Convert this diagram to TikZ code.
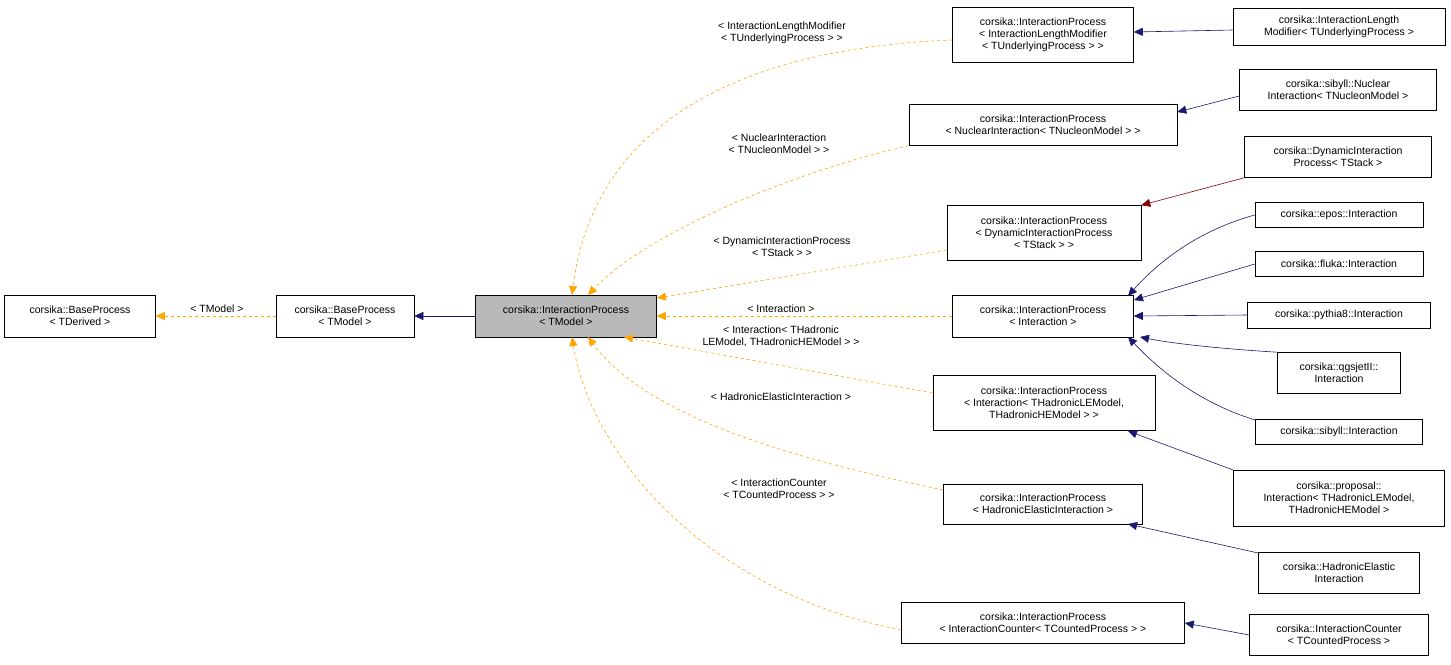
\documentclass[tikz,border=0pt]{standalone}
\usepackage{fontspec}
\setmainfont{Liberation Sans}
\usetikzlibrary{arrows.meta}
\definecolor{og}{HTML}{FFA500}
\definecolor{nvy}{HTML}{191970}
\begin{document}
\begin{tikzpicture}[x=1pt,y=-1pt,
  box/.style={draw,semithick,align=center,inner sep=2pt,font=\fontsize{10.5}{12}\selectfont},
  inh/.style={draw=og,dashed,semithick,-{Triangle[width=8pt,length=9pt]}},
  nv/.style={draw=nvy,semithick,-{Triangle[width=8pt,length=9pt]}},
  rd/.style={draw=red!50!black,semithick,-{Triangle[width=8pt,length=9pt]}},
  lab/.style={align=center,font=\fontsize{10.5}{12}\selectfont}]
\useasboundingbox (0,0) rectangle (1451,664);
\def\bx#1#2#3#4#5#6{\node[box,minimum width=#4,minimum height=#5] (#1) at (#2,#3) {#6};}
\bx{bd}{80}{316}{151}{42}{corsika::BaseProcess\\< TDerived >}
\bx{bm}{345}{316}{138}{42}{corsika::BaseProcess\\< TModel >}
\node[box,fill=gray!55,minimum width=181,minimum height=42] (ip) at (566,316) {corsika::InteractionProcess\\< TModel >};
\bx{ilm}{1043}{35}{181}{55}{corsika::InteractionProcess\\< InteractionLengthModifier\\< TUnderlyingProcess > >}
\bx{ilmr}{1339}{27}{212}{37}{corsika::InteractionLength\\Modifier< TUnderlyingProcess >}
\bx{nuc}{1043}{125}{268}{41}{corsika::InteractionProcess\\< NuclearInteraction< TNucleonModel > >}
\bx{nucr}{1338}{90}{197}{41}{corsika::sibyll::Nuclear\\Interaction< TNucleonModel >}
\bx{dynr}{1338}{157}{187}{41}{corsika::DynamicInteraction\\Process< TStack >}
\bx{dyn}{1044}{233}{194}{55}{corsika::InteractionProcess\\< DynamicInteractionProcess\\< TStack > >}
\bx{epos}{1339}{215}{168}{25}{corsika::epos::Interaction}
\bx{fluka}{1339}{264}{168}{25}{corsika::fluka::Interaction}
\bx{py}{1339}{315}{183}{26}{corsika::pythia8::Interaction}
\bx{qgs}{1339}{373}{123}{41}{corsika::qgsjetII::\\Interaction}
\bx{sib}{1339}{432}{167}{25}{corsika::sibyll::Interaction}
\bx{int}{1043}{316}{181}{42}{corsika::InteractionProcess\\< Interaction >}
\bx{hle}{1044}{403}{222}{55}{corsika::InteractionProcess\\< Interaction< THadronicLEModel,\\THadronicHEModel > >}
\bx{prop}{1339}{498}{211}{56}{corsika::proposal::\\Interaction< THadronicLEModel,\\THadronicHEModel >}
\bx{hel}{1043}{504}{199}{40}{corsika::InteractionProcess\\< HadronicElasticInteraction >}
\bx{helr}{1339}{573}{161}{41}{corsika::HadronicElastic\\Interaction}
\bx{cnt}{1043}{623}{283}{41}{corsika::InteractionProcess\\< InteractionCounter< TCountedProcess > >}
\bx{cntr}{1339}{635}{179}{41}{corsika::InteractionCounter\\< TCountedProcess >}
\draw[inh] (bm.west) -- (bd.east);
\node[lab] at (217,309) {< TModel >};
\draw[nv] (ip.west) -- (bm.east);
\draw[inh] (ilm.west|-0,40) .. controls (700,50) and (590,150) .. (572,295);
\draw[inh] (nuc.south west) .. controls (800,170) and (650,230) .. (588,295);
\draw[inh] (dyn.west|-0,250) -- (657,298);
\draw[inh] (int.west) -- (ip.east);
\draw[inh] (hle.west|-0,393) -- (624,337);
\draw[inh] (hel.west|-0,490) .. controls (800,460) and (650,420) .. (588,337);
\draw[inh] (cnt.west|-0,630) .. controls (700,590) and (590,450) .. (572,337);
\node[lab] at (782,33) {< InteractionLengthModifier\\< TUnderlyingProcess > >};
\node[lab] at (779,144) {< NuclearInteraction\\< TNucleonModel > >};
\node[lab] at (782,247) {< DynamicInteractionProcess\\< TStack > >};
\node[lab] at (781,309) {< Interaction >};
\node[lab] at (781,336) {< Interaction< THadronic\\LEModel, THadronicHEModel > >};
\node[lab] at (781,397) {< HadronicElasticInteraction >};
\node[lab] at (779,489) {< InteractionCounter\\< TCountedProcess > >};
\draw[nv] (ilmr.west|-0,30) -- (ilm.east|-0,32);
\draw[nv] (nucr.west|-0,96) -- (nuc.north east|-0,112);
\draw[rd] (dynr.south west) -- (dyn.north east);
\draw[nv] (epos.west) .. controls (1200,230) and (1160,260) .. (1128,296);
\draw[nv] (fluka.west) -- (1134,300);
\draw[nv] (py.west) -- (int.east);
\draw[nv] (qgs.north west) .. controls (1240,350) and (1180,345) .. (1140,337);
\draw[nv] (sib.north west|-0,420) .. controls (1190,400) and (1150,360) .. (1128,337);
\draw[nv] (prop.north west|-0,470) -- (1128,431);
\draw[nv] (helr.north west|-0,553) -- (1128,524);
\draw[nv] (cntr.west) -- (cnt.east);
\end{tikzpicture}
\end{document}
